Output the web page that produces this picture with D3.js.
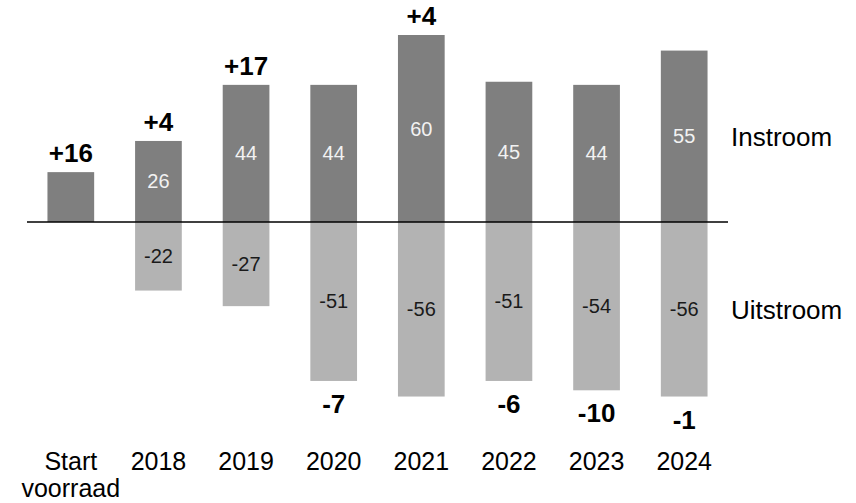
<!DOCTYPE html>
<html>
<head>
<meta charset="utf-8">
<script src="https://cdn.jsdelivr.net/npm/d3@7/dist/d3.min.js"></script>
<style>
  html, body { margin: 0; padding: 0; background: #fff; }
  svg { display: block; font-family: "Liberation Sans", Arial, sans-serif; }
</style>
</head>
<body>
<svg id="chart" width="856" height="503"></svg>
<script>
const categories = ["Start voorraad", "2018", "2019", "2020", "2021", "2022", "2023", "2024"];
const instroom = [16, 26, 44, 44, 60, 45, 44, 55];
const uitstroom = [null, -22, -27, -51, -56, -51, -54, -56];
const netLabels = ["+16", "+4", "+17", "-7", "+4", "-6", "-10", "-1"];
const showInValue = [false, true, true, true, true, true, true, true];
const legendLabels = ["Instroom", "Uitstroom"];

const svg = d3.select("#chart");
const x = d3.scaleBand().domain(categories).range([27, 728]).paddingInner(0.467).paddingOuter(0.2335);
const y = d3.scaleLinear().domain([-60, 60]).range([409, 35]);

const data = categories.map((c, i) => ({ c, inV: instroom[i], outV: uitstroom[i], net: netLabels[i], show: showInValue[i] }));

// inflow bars
svg.selectAll("rect.in").data(data).join("rect")
  .attr("class", "in")
  .attr("x", d => x(d.c)).attr("width", x.bandwidth())
  .attr("y", d => y(d.inV)).attr("height", d => y(0) - y(d.inV))
  .attr("fill", "#7f7f7f");

// outflow bars
svg.selectAll("rect.out").data(data.filter(d => d.outV !== null)).join("rect")
  .attr("class", "out")
  .attr("x", d => x(d.c)).attr("width", x.bandwidth())
  .attr("y", y(0)).attr("height", d => y(d.outV) - y(0))
  .attr("fill", "#b3b3b3");

// baseline
svg.append("line")
  .attr("x1", x.range()[0]).attr("x2", x.range()[1])
  .attr("y1", y(0)).attr("y2", y(0))
  .attr("stroke", "#000").attr("stroke-width", 1.5);

// values inside bars
svg.selectAll("text.inv").data(data.filter(d => d.show)).join("text")
  .attr("class", "inv")
  .attr("x", d => x(d.c) + x.bandwidth() / 2)
  .attr("y", d => (y(d.inV) + y(0)) / 2)
  .attr("dy", "0.35em")
  .attr("text-anchor", "middle")
  .attr("font-size", 20)
  .attr("fill", "#f2f2f2")
  .text(d => d.inV);

svg.selectAll("text.outv").data(data.filter(d => d.outV !== null)).join("text")
  .attr("class", "outv")
  .attr("x", d => x(d.c) + x.bandwidth() / 2)
  .attr("y", d => (y(d.outV) + y(0)) / 2)
  .attr("dy", "0.35em")
  .attr("text-anchor", "middle")
  .attr("font-size", 20)
  .attr("fill", "#1a1a1a")
  .text(d => d.outV);

// net labels
svg.selectAll("text.net").data(data).join("text")
  .attr("class", "net")
  .attr("x", d => x(d.c) + x.bandwidth() / 2)
  .attr("y", d => d.net.startsWith("+") ? y(d.inV) - 10 : y(d.outV) + 32)
  .attr("text-anchor", "middle")
  .attr("font-size", 26)
  .attr("font-weight", "bold")
  .attr("fill", "#000")
  .text(d => d.net);

// category labels
const cat = svg.selectAll("text.cat").data(categories).join("text")
  .attr("class", "cat")
  .attr("x", d => x(d) + x.bandwidth() / 2)
  .attr("y", 470)
  .attr("text-anchor", "middle")
  .attr("font-size", 25)
  .attr("fill", "#000");
cat.each(function(d) {
  const parts = d.split(" ");
  const t = d3.select(this);
  parts.forEach((p, i) => {
    t.append("tspan").attr("x", x(d) + x.bandwidth() / 2).attr("dy", i === 0 ? 0 : 27).text(p);
  });
});

// legend labels
svg.append("text").attr("x", 731).attr("y", 146).attr("font-size", 26).attr("fill", "#000").text(legendLabels[0]);
svg.append("text").attr("x", 731).attr("y", 319).attr("font-size", 26).attr("fill", "#000").text(legendLabels[1]);
</script>
</body>
</html>
